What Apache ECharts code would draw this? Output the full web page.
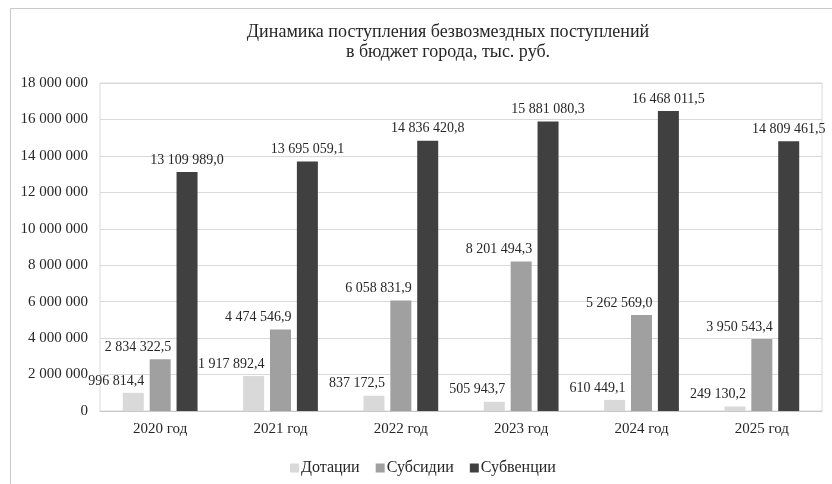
<!DOCTYPE html>
<html>
<head>
<meta charset="utf-8">
<script src="https://cdn.jsdelivr.net/npm/echarts@6/dist/echarts.min.js"></script>
<style>html,body{margin:0;padding:0;background:#fff}#c{width:832px;height:484px}</style>
</head>
<body>
<div id="c"></div>
<script>
var categories = ['2020 год', '2021 год', '2022 год', '2023 год', '2024 год', '2025 год'];
var dotacii = [996814.4, 1917892.4, 837172.5, 505943.7, 610449.1, 249130.2];
var subsidii = [2834322.5, 4474546.9, 6058831.9, 8201494.3, 5262569.0, 3950543.4];
var subvencii = [13109989.0, 13695059.1, 14836420.8, 15881080.3, 16468011.5, 14809461.5];
var seriesNames = ['Дотации', 'Субсидии', 'Субвенции'];

function group(n) {
  return String(n).replace(/\B(?=(\d{3})+(?!\d))/g, ' ');
}
function fmtVal(v) {
  var s = v.toFixed(1).split('.');
  return group(s[0]) + ',' + s[1];
}
var FONT = '"Liberation Serif", "Times New Roman", serif';
var chart = echarts.init(document.getElementById('c'));
var sideLabel = {
  show: true, position: 'top', align: 'right', offset: [11, 0],
  fontFamily: FONT, fontSize: 14, color: '#262626',
  formatter: function (p) { return fmtVal(p.value); }
};
chart.setOption({
  backgroundColor: '#fff',
  animation: false,
  graphic: [{
    type: 'rect', silent: true,
    shape: { x: 10.5, y: 8.5, width: 840, height: 500 },
    style: { fill: 'none', stroke: '#c8c8c8', lineWidth: 1 }
  }],
  title: {
    text: 'Динамика поступления безвозмездных поступлений\nв бюджет города, тыс. руб.',
    left: 443, top: 17, textAlign: 'center',
    textStyle: { fontFamily: FONT, fontSize: 18, fontWeight: 'normal', color: '#262626', lineHeight: 20 }
  },
  legend: {
    data: seriesNames,
    left: 285, top: 455,
    itemWidth: 9, itemHeight: 9, itemGap: 16,
    icon: 'rect',
    textStyle: { fontFamily: FONT, fontSize: 16, color: '#262626', padding: [0, 0, 0, -3] }
  },
  grid: {
    left: 100, right: 10, top: 83, bottom: 73,
    show: true, borderColor: '#d9d9d9', borderWidth: 1
  },
  xAxis: {
    type: 'category', data: categories,
    axisTick: { show: false },
    axisLine: { lineStyle: { color: '#c8c8c8' } },
    axisLabel: { fontFamily: FONT, fontSize: 15, color: '#262626', margin: 11 }
  },
  yAxis: {
    type: 'value', min: 0, max: 18000000, interval: 2000000,
    axisLine: { show: false }, axisTick: { show: false },
    splitLine: { lineStyle: { color: '#d9d9d9' } },
    axisLabel: {
      fontFamily: FONT, fontSize: 15, color: '#262626', margin: 12,
      formatter: function (v) { return group(v); }
    }
  },
  series: [
    { name: seriesNames[0], type: 'bar', data: dotacii, barWidth: 21, barGap: '28%',
      itemStyle: { color: '#d9d9d9' }, label: sideLabel },
    { name: seriesNames[1], type: 'bar', data: subsidii, barWidth: 21, barGap: '28%',
      itemStyle: { color: '#a0a0a0' }, label: sideLabel },
    { name: seriesNames[2], type: 'bar', data: subvencii, barWidth: 21, barGap: '28%',
      itemStyle: { color: '#404040' },
      label: { show: true, position: 'top', fontFamily: FONT, fontSize: 14, color: '#262626',
        formatter: function (p) { return fmtVal(p.value); } } }
  ]
});
</script>
</body>
</html>
